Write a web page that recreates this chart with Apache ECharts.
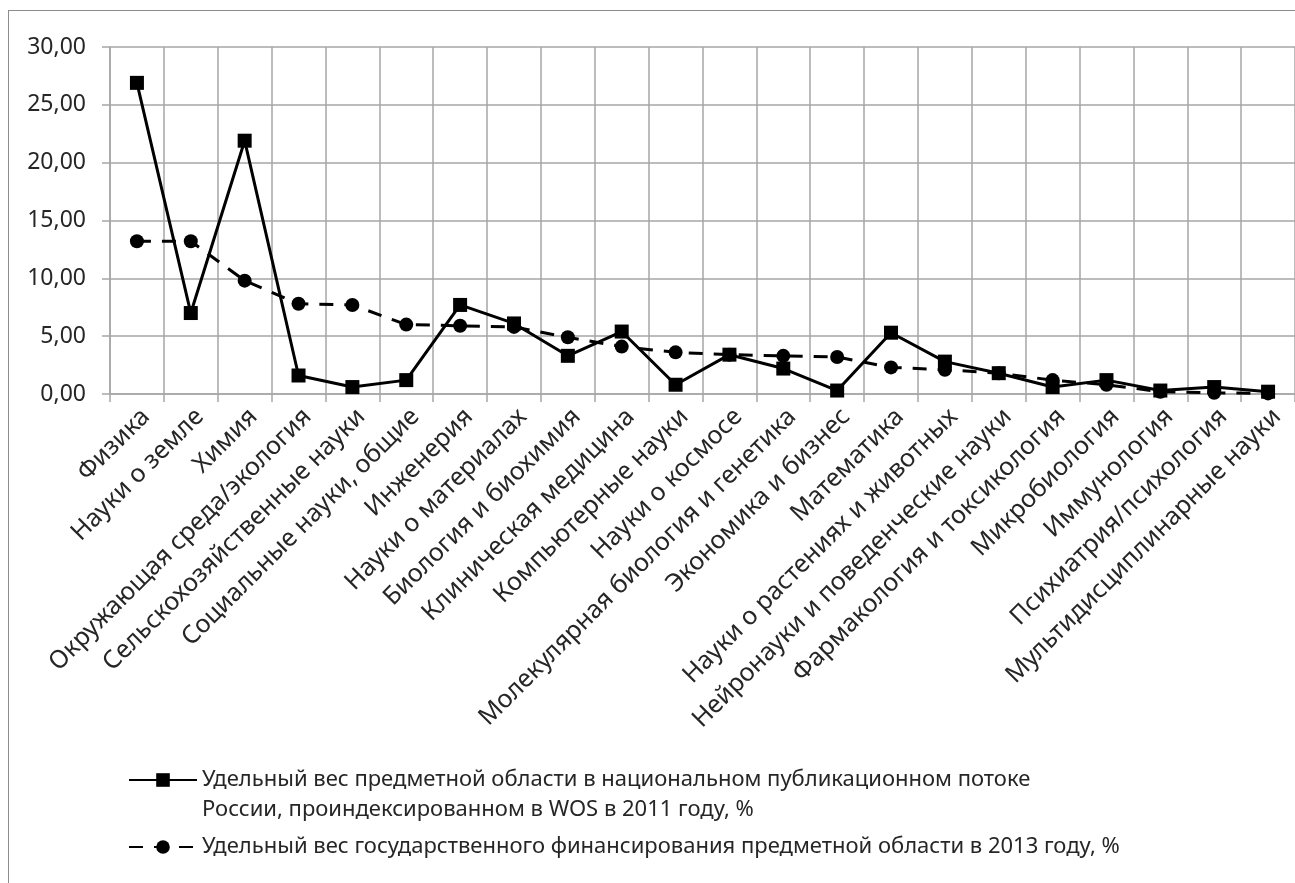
<!DOCTYPE html>
<html>
<head>
<meta charset="utf-8">
<script src="https://cdn.jsdelivr.net/npm/echarts@6/dist/echarts.min.js"></script>
<style>
  html, body { margin: 0; padding: 0; background: #ffffff; }
  #wrap { position: relative; width: 1295px; height: 883px; overflow: hidden; }
  #chart { position: absolute; left: 0; top: 0; width: 1295px; height: 883px; }
  #frame { position: absolute; left: 8px; top: 10px; right: -5px; bottom: -5px;
           border-left: 1.5px solid #8c8c8c; border-top: 1.5px solid #8c8c8c; pointer-events: none; }
</style>
</head>
<body>
<div id="wrap">
  <div id="chart"></div>
  <div id="frame"></div>
</div>
<script>
const categories = [
  'Физика', 'Науки о земле', 'Химия', 'Окружающая среда/экология',
  'Сельскохозяйственные науки', 'Социальные науки, общие', 'Инженерия',
  'Науки о материалах', 'Биология и биохимия', 'Клиническая медицина',
  'Компьютерные науки', 'Науки о космосе', 'Молекулярная биология и генетика',
  'Экономика и бизнес', 'Математика', 'Науки о растениях и животных',
  'Нейронауки и поведенческие науки', 'Фармакология и токсикология',
  'Микробиология', 'Иммунология', 'Психиатрия/психология',
  'Мультидисциплинарные науки'
];
const publicationShare2011 = [
  26.9, 7.0, 21.9, 1.6, 0.6, 1.2, 7.7, 6.1, 3.3, 5.4, 0.8,
  3.4, 2.2, 0.3, 5.3, 2.8, 1.8, 0.6, 1.2, 0.3, 0.6, 0.2
];
const fundingShare2013 = [
  13.2, 13.2, 9.8, 7.8, 7.7, 6.0, 5.9, 5.8, 4.9, 4.1, 3.6,
  3.4, 3.3, 3.2, 2.3, 2.1, 1.8, 1.2, 0.8, 0.2, 0.1, 0.05
];
const seriesNames = [
  'Удельный вес предметной области в национальном публикационном потоке\nРоссии, проиндексированном в WOS в 2011 году, %',
  'Удельный вес государственного финансирования предметной области в 2013 году, %'
];
const yTicks = { min: 0, max: 30, interval: 5 };

const FONT = 'Noto Sans';
const TXT = '#262626';
const GRID = '#a6a6a6';

const chart = echarts.init(document.getElementById('chart'), null, { renderer: 'canvas' });
chart.setOption({
  backgroundColor: '#ffffff',
  animation: false,
  textStyle: { fontFamily: FONT, color: TXT },
  grid: { left: 110, right: 0, top: 47, bottom: 489, containLabel: false },
  xAxis: {
    type: 'category',
    data: categories,
    boundaryGap: true,
    axisLine: { show: true, lineStyle: { color: GRID, width: 1.5 } },
    axisTick: { show: true, length: 8, lineStyle: { color: GRID, width: 1.5 } },
    splitLine: { show: true, lineStyle: { color: GRID, width: 1.5 } },
    axisLabel: {
      interval: 0, rotate: 45, margin: 10, verticalAlign: 'top',
      fontFamily: FONT, fontSize: 25, color: TXT
    }
  },
  yAxis: {
    type: 'value',
    min: yTicks.min, max: yTicks.max, interval: yTicks.interval,
    axisLine: { show: true, lineStyle: { color: GRID, width: 1.5 } },
    axisTick: { show: true, length: 8, lineStyle: { color: GRID, width: 1.5 } },
    splitLine: { show: true, lineStyle: { color: GRID, width: 1.5 } },
    axisLabel: {
      margin: 24, fontFamily: FONT, fontSize: 23, color: TXT,
      formatter: v => v.toFixed(2).replace('.', ',')
    }
  },
  legend: [
    {
      data: [seriesNames[0]],
      left: 128, top: 735, padding: 0,
      itemWidth: 68, itemHeight: 17, itemGap: 0,
      formatter: n => ' \n' + n,
      textStyle: { fontFamily: FONT, fontSize: 22, color: TXT, lineHeight: 30 }
    },
    {
      data: [seriesNames[1]],
      left: 128, top: 832, padding: 0,
      itemWidth: 68, itemHeight: 17, itemGap: 0,
      textStyle: { fontFamily: FONT, fontSize: 22, color: TXT, lineHeight: 30 }
    }
  ],
  series: [
    {
      name: seriesNames[0],
      type: 'line',
      data: publicationShare2011,
      symbol: 'rect', symbolSize: 14,
      lineStyle: { color: '#000000', width: 3, type: 'solid' },
      itemStyle: { color: '#000000' },
      z: 3
    },
    {
      name: seriesNames[1],
      type: 'line',
      data: fundingShare2013,
      symbol: 'circle', symbolSize: 14,
      lineStyle: { color: '#000000', width: 3, type: [14, 11] },
      itemStyle: { color: '#000000' },
      z: 2
    }
  ]
});
</script>
</body>
</html>
